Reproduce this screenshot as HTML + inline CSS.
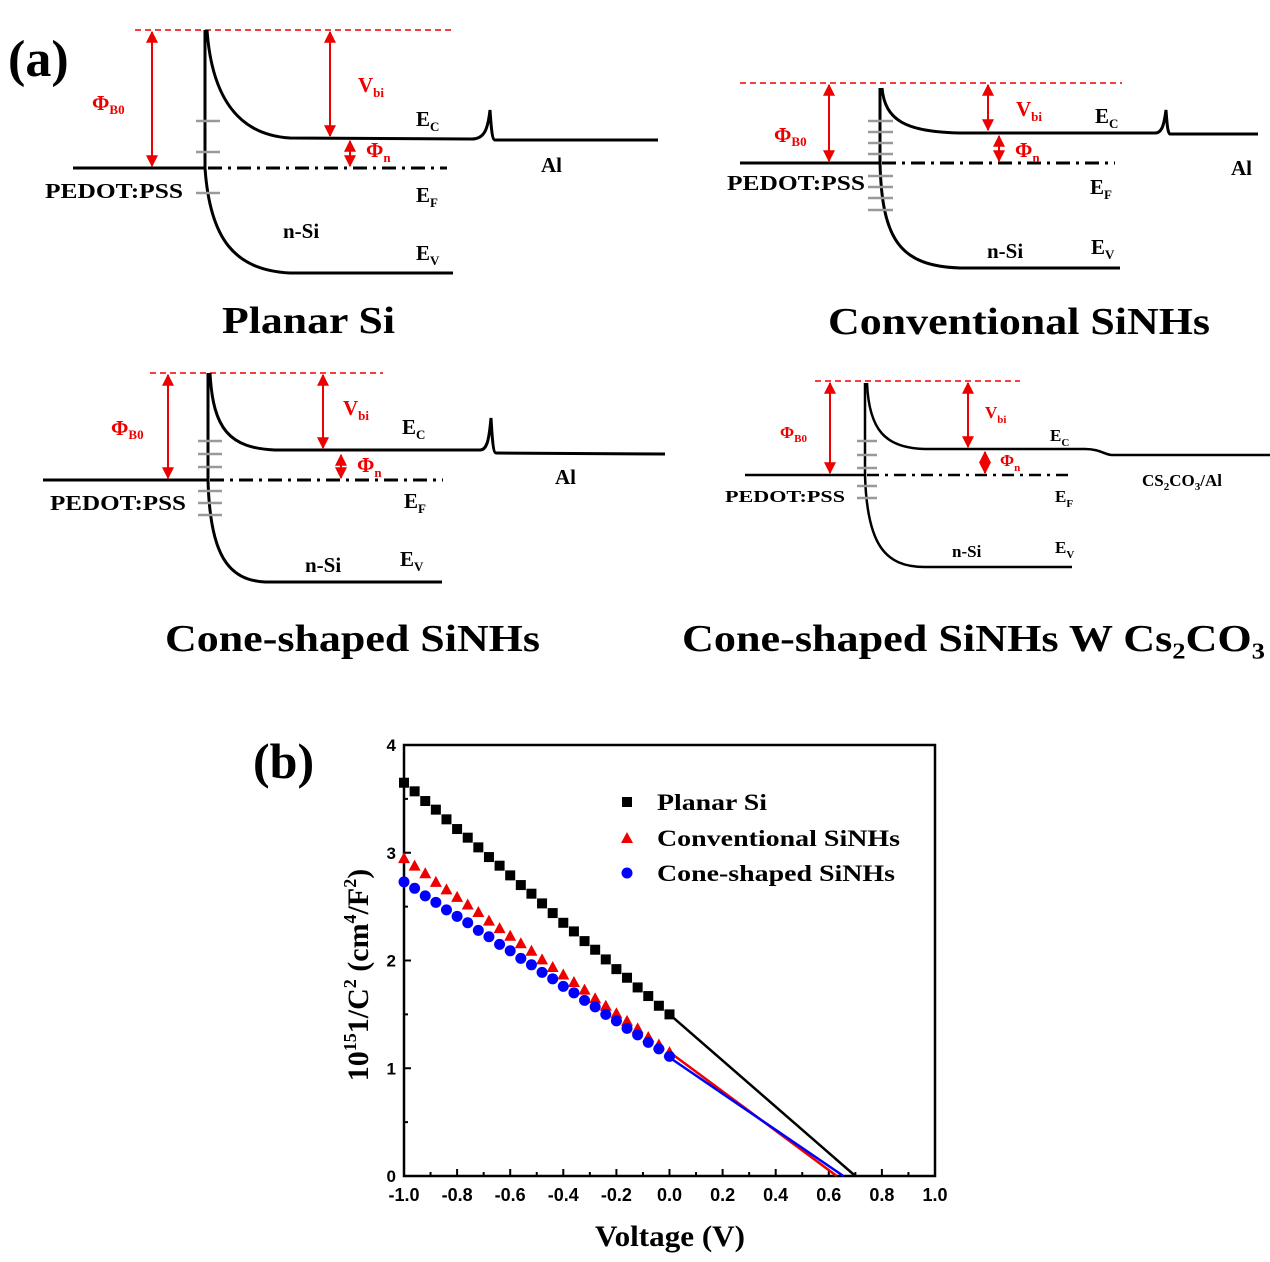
<!DOCTYPE html>
<html><head><meta charset="utf-8"><style>
html,body{margin:0;padding:0;background:#fff;}
svg{display:block;font-family:"Liberation Serif",serif;font-weight:bold;}
</style></head><body>
<svg id="fig" width="1270" height="1262" viewBox="0 0 1270 1262" xmlns="http://www.w3.org/2000/svg">
<defs>
<marker id="ah" viewBox="0 0 10 10" refX="9" refY="5" markerWidth="6" markerHeight="6" orient="auto-start-reverse"><path d="M0,0 L10,5 L0,10 z" fill="#e00"/></marker>
</defs>
<text x="8" y="76" font-size="52">(a)</text>

<!-- Panel 1: Planar Si -->
<g fill="none" stroke-width="3">
<line x1="135" y1="30" x2="453" y2="30" stroke="#e00" stroke-width="1.6" stroke-dasharray="6,4"/>
<line x1="73" y1="168" x2="205" y2="168" stroke="#000"/>
<line x1="205" y1="30" x2="205" y2="168" stroke="#000"/>
<path d="M207,30 C212,100 240,135 290,138 L470,139 C485,140 488,128 490,110 C491,125 492,140 495,140 L658,140" stroke="#000"/>
<line x1="208" y1="168" x2="447" y2="168" stroke="#000" stroke-dasharray="14,6,3,6"/>
<path d="M205,168 C210,240 235,270 290,273 L453,273" stroke="#000"/>
<g stroke="#999" stroke-width="2.5"><line x1="196" y1="121" x2="220" y2="121"/><line x1="196" y1="152" x2="220" y2="152"/><line x1="196" y1="193" x2="220" y2="193"/></g>
<g stroke="#e00" stroke-width="2"><line x1="152" y1="32" x2="152" y2="166" marker-start="url(#ah)" marker-end="url(#ah)"/><line x1="330" y1="32" x2="330" y2="136" marker-start="url(#ah)" marker-end="url(#ah)"/><line x1="350" y1="141" x2="350" y2="166" marker-start="url(#ah)" marker-end="url(#ah)"/></g>
</g>
<g font-size="21">
<text x="92" y="110" fill="#e00">Φ<tspan font-size="13" dy="4">B0</tspan></text>
<text x="358" y="92" fill="#e00">V<tspan font-size="13" dy="5">bi</tspan></text>
<text x="366" y="157" fill="#e00">Φ<tspan font-size="13" dy="5">n</tspan></text>
<text x="416" y="126">E<tspan font-size="13" dy="5">C</tspan></text>
<text x="416" y="202">E<tspan font-size="13" dy="5">F</tspan></text>
<text x="416" y="260">E<tspan font-size="13" dy="5">V</tspan></text>
<text x="283" y="238">n-Si</text>
<text x="45" y="198" textLength="138" lengthAdjust="spacingAndGlyphs">PEDOT:PSS</text>
<text x="541" y="172">Al</text>
</g>
<text x="222" y="333" font-size="38" textLength="173" lengthAdjust="spacingAndGlyphs">Planar Si</text>

<!-- Panel 2: Conventional -->
<g fill="none" stroke-width="3">
<line x1="740" y1="83" x2="1122" y2="83" stroke="#e00" stroke-width="1.6" stroke-dasharray="6,4"/>
<line x1="740" y1="163" x2="880" y2="163" stroke="#000"/>
<line x1="880" y1="88" x2="880" y2="163" stroke="#000"/>
<path d="M882,88 C885,120 905,132 960,133 L1155,133 C1162,133 1164,125 1166,110 C1167,125 1168,134 1170,134 L1258,134" stroke="#000"/>
<line x1="882" y1="163" x2="1115" y2="163" stroke="#000" stroke-dasharray="14,6,3,6"/>
<path d="M880,163 C882,240 900,266 960,268 L1120,268" stroke="#000"/>
<g stroke="#999" stroke-width="2.5">
<line x1="868" y1="121" x2="893" y2="121"/><line x1="868" y1="132" x2="893" y2="132"/><line x1="868" y1="143" x2="893" y2="143"/><line x1="868" y1="154" x2="893" y2="154"/><line x1="868" y1="176" x2="893" y2="176"/><line x1="868" y1="187" x2="893" y2="187"/><line x1="868" y1="198" x2="893" y2="198"/><line x1="868" y1="210" x2="893" y2="210"/></g>
<g stroke="#e00" stroke-width="2"><line x1="829" y1="85" x2="829" y2="161" marker-start="url(#ah)" marker-end="url(#ah)"/><line x1="988" y1="85" x2="988" y2="130" marker-start="url(#ah)" marker-end="url(#ah)"/><line x1="999" y1="136" x2="999" y2="161" marker-start="url(#ah)" marker-end="url(#ah)"/></g>
</g>
<g font-size="21">
<text x="774" y="142" fill="#e00">Φ<tspan font-size="13" dy="4">B0</tspan></text>
<text x="1016" y="116" fill="#e00">V<tspan font-size="13" dy="5">bi</tspan></text>
<text x="1015" y="157" fill="#e00">Φ<tspan font-size="13" dy="5">n</tspan></text>
<text x="1095" y="123">E<tspan font-size="13" dy="5">C</tspan></text>
<text x="1090" y="194">E<tspan font-size="13" dy="5">F</tspan></text>
<text x="1091" y="254">E<tspan font-size="13" dy="5">V</tspan></text>
<text x="987" y="258">n-Si</text>
<text x="727" y="190" textLength="138" lengthAdjust="spacingAndGlyphs">PEDOT:PSS</text>
<text x="1231" y="175">Al</text>
</g>
<text x="828" y="334" font-size="38" textLength="382" lengthAdjust="spacingAndGlyphs">Conventional SiNHs</text>

<!-- Panel 3: Cone-shaped -->
<g fill="none" stroke-width="3">
<line x1="150" y1="373" x2="383" y2="373" stroke="#e00" stroke-width="1.6" stroke-dasharray="6,4"/>
<line x1="43" y1="480" x2="208" y2="480" stroke="#000"/>
<line x1="208" y1="373" x2="208" y2="480" stroke="#000"/>
<path d="M210,373 C213,430 230,448 275,450 L480,450 C487,450 489,440 491,418 C492,435 493,453 496,453 L665,454" stroke="#000"/>
<line x1="210" y1="480" x2="443" y2="480" stroke="#000" stroke-dasharray="14,6,3,6"/>
<path d="M208,480 C210,555 228,580 265,582 L442,582" stroke="#000"/>
<g stroke="#999" stroke-width="2.5">
<line x1="198" y1="441" x2="222" y2="441"/><line x1="198" y1="454" x2="222" y2="454"/><line x1="198" y1="467" x2="222" y2="467"/><line x1="198" y1="491" x2="222" y2="491"/><line x1="198" y1="503" x2="222" y2="503"/><line x1="198" y1="515" x2="222" y2="515"/></g>
<g stroke="#e00" stroke-width="2"><line x1="168" y1="375" x2="168" y2="478" marker-start="url(#ah)" marker-end="url(#ah)"/><line x1="323" y1="375" x2="323" y2="448" marker-start="url(#ah)" marker-end="url(#ah)"/><line x1="341" y1="455" x2="341" y2="478" marker-start="url(#ah)" marker-end="url(#ah)"/></g>
</g>
<g font-size="21">
<text x="111" y="435" fill="#e00">Φ<tspan font-size="13" dy="4">B0</tspan></text>
<text x="343" y="415" fill="#e00">V<tspan font-size="13" dy="5">bi</tspan></text>
<text x="357" y="472" fill="#e00">Φ<tspan font-size="13" dy="5">n</tspan></text>
<text x="402" y="434">E<tspan font-size="13" dy="5">C</tspan></text>
<text x="404" y="508">E<tspan font-size="13" dy="5">F</tspan></text>
<text x="400" y="566">E<tspan font-size="13" dy="5">V</tspan></text>
<text x="305" y="572">n-Si</text>
<text x="50" y="510" textLength="136" lengthAdjust="spacingAndGlyphs">PEDOT:PSS</text>
<text x="555" y="484">Al</text>
</g>
<text x="165" y="651" font-size="38" textLength="375" lengthAdjust="spacingAndGlyphs">Cone-shaped SiNHs</text>

<!-- Panel 4: Cone-shaped with Cs2CO3 -->
<g fill="none" stroke-width="2.5">
<line x1="815" y1="381" x2="1020" y2="381" stroke="#e00" stroke-width="1.6" stroke-dasharray="6,4"/>
<line x1="745" y1="475" x2="865" y2="475" stroke="#000"/>
<line x1="865" y1="383" x2="865" y2="475" stroke="#000"/>
<path d="M867,383 C869,430 885,448 925,449 L1085,449 C1100,449 1105,455 1112,455 L1270,455" stroke="#000"/>
<line x1="867" y1="475" x2="1072" y2="475" stroke="#000" stroke-dasharray="12,6,3,6"/>
<path d="M865,475 C867,545 885,567 925,567 L1072,567" stroke="#000"/>
<g stroke="#999" stroke-width="2.5">
<line x1="857" y1="441" x2="877" y2="441"/><line x1="857" y1="455" x2="877" y2="455"/><line x1="857" y1="468" x2="877" y2="468"/><line x1="857" y1="486" x2="877" y2="486"/><line x1="857" y1="498" x2="877" y2="498"/></g>
<g stroke="#e00" stroke-width="2"><line x1="830" y1="383" x2="830" y2="473" marker-start="url(#ah)" marker-end="url(#ah)"/><line x1="968" y1="383" x2="968" y2="447" marker-start="url(#ah)" marker-end="url(#ah)"/><line x1="985" y1="452" x2="985" y2="473" marker-start="url(#ah)" marker-end="url(#ah)"/></g>
</g>
<g font-size="17">
<text x="780" y="438" fill="#e00">Φ<tspan font-size="11" dy="4">B0</tspan></text>
<text x="985" y="418" fill="#e00">V<tspan font-size="11" dy="5">bi</tspan></text>
<text x="1000" y="466" fill="#e00">Φ<tspan font-size="11" dy="5">n</tspan></text>
<text x="1050" y="441">E<tspan font-size="11" dy="5">C</tspan></text>
<text x="1055" y="502">E<tspan font-size="11" dy="5">F</tspan></text>
<text x="1055" y="553">E<tspan font-size="11" dy="5">V</tspan></text>
<text x="952" y="557">n-Si</text>
<text x="725" y="502" textLength="120" lengthAdjust="spacingAndGlyphs">PEDOT:PSS</text>
<text x="1142" y="486">CS<tspan font-size="11" dy="4">2</tspan><tspan dy="-4">CO</tspan><tspan font-size="11" dy="4">3</tspan><tspan dy="-4">/Al</tspan></text>
</g>
<text x="682" y="651" font-size="38" textLength="583" lengthAdjust="spacingAndGlyphs">Cone-shaped SiNHs W Cs₂CO₃</text>

<!-- Panel b -->
<text x="253" y="778" font-size="50">(b)</text>
<g id="chart"></g>
</svg>
<script>
const voltages = [-1,-0.96,-0.92,-0.88,-0.84,-0.8,-0.76,-0.72,-0.68,-0.64,-0.6,-0.56,-0.52,-0.48,-0.44,-0.4,-0.36,-0.32,-0.28,-0.24,-0.2,-0.16,-0.12,-0.08,-0.04,0];
const planarValues = [3.65,3.57,3.48,3.40,3.31,3.22,3.14,3.05,2.96,2.88,2.79,2.70,2.62,2.53,2.44,2.35,2.27,2.18,2.10,2.01,1.92,1.84,1.75,1.67,1.58,1.50];
const conventionalValues = [2.95,2.88,2.81,2.73,2.66,2.59,2.52,2.45,2.37,2.30,2.23,2.16,2.09,2.01,1.94,1.87,1.80,1.73,1.65,1.58,1.51,1.44,1.37,1.29,1.22,1.15];
const coneValues = [2.73,2.67,2.60,2.54,2.47,2.41,2.35,2.28,2.22,2.15,2.09,2.02,1.96,1.89,1.83,1.76,1.70,1.63,1.57,1.50,1.44,1.37,1.31,1.24,1.18,1.11];
const planarFit = [[0,1.5],[0.7,0]];
const conventionalFit = [[0,1.15],[0.63,0]];
const coneFit = [[0,1.1],[0.655,0]];
const xTicks = [-1,-0.8,-0.6,-0.4,-0.2,0,0.2,0.4,0.6,0.8,1];
const xTickLabels = ["-1.0","-0.8","-0.6","-0.4","-0.2","0.0","0.2","0.4","0.6","0.8","1.0"];
const yTicks = [0,1,2,3,4];
const yTickLabels = ["0","1","2","3","4"];

const NS = "http://www.w3.org/2000/svg";
const g = document.getElementById('chart');
const X0 = 404, X1 = 935, Y0 = 1176, Y1 = 745;
const sx = v => X0 + (v + 1) / 2 * (X1 - X0);
const sy = v => Y0 - v / 4 * (Y0 - Y1);
function mk(tag, attrs, parent) {
  const e = document.createElementNS(NS, tag);
  for (const k in attrs) e.setAttribute(k, attrs[k]);
  (parent || g).appendChild(e);
  return e;
}
const frame = mk('rect', {x: X0, y: Y1, width: X1 - X0, height: Y0 - Y1, fill: 'none', stroke: '#000', 'stroke-width': 2.5});


xTicks.forEach((t, i) => {
  const x = sx(t);
  const tk = mk('line', {x1: x, y1: Y0, x2: x, y2: Y0 - 7, stroke: '#000', 'stroke-width': 2});
  
  
  if (i < xTicks.length - 1) {
    const mx = sx(t + 0.1);
    const mt = mk('line', {x1: mx, y1: Y0, x2: mx, y2: Y0 - 4, stroke: '#000', 'stroke-width': 2});
    
    
  }
  const lb = mk('text', {x: x, y: Y0 + 25, 'text-anchor': 'middle', 'font-size': 18, 'font-family': 'Liberation Sans, sans-serif'});
  lb.textContent = xTickLabels[i];
  
  
});
yTicks.forEach((t, i) => {
  const y = sy(t);
  const tk = mk('line', {x1: X0, y1: y, x2: X0 + 7, y2: y, stroke: '#000', 'stroke-width': 2});
  
  
  if (i < yTicks.length - 1) {
    const my = sy(t + 0.5);
    const mt = mk('line', {x1: X0, y1: my, x2: X0 + 4, y2: my, stroke: '#000', 'stroke-width': 2});
    
    
  }
  const lb = mk('text', {x: X0 - 8, y: y + 6, 'text-anchor': 'end', 'font-size': 17, 'font-family': 'Liberation Sans, sans-serif'});
  lb.textContent = yTickLabels[i];
  
  
});
const xt = mk('text', {x: 595, y: 1246, 'font-size': 30, textLength: 150, lengthAdjust: 'spacingAndGlyphs'});
xt.textContent = 'Voltage (V)';


const yt = mk('text', {x: 0, y: 0, 'text-anchor': 'middle', 'font-size': 30, transform: 'translate(368,975) rotate(-90)'});
yt.innerHTML = '10<tspan font-size="18" dy="-12">15</tspan><tspan dy="12">1/C</tspan><tspan font-size="18" dy="-12">2</tspan><tspan dy="12"> (cm</tspan><tspan font-size="18" dy="-12">4</tspan><tspan dy="12">/F</tspan><tspan font-size="18" dy="-12">2</tspan><tspan dy="12">)</tspan>';



function fit(pts, color, name) {
  const l = mk('line', {x1: sx(pts[0][0]), y1: sy(pts[0][1]), x2: sx(pts[1][0]), y2: sy(pts[1][1]), stroke: color, 'stroke-width': 2.5});
  
  
}
fit(planarFit, '#000', 'fit-line-planar');
fit(conventionalFit, '#e00', 'fit-line-conventional');
fit(coneFit, '#00f', 'fit-line-cone');

function marker(shape, x, y, color, parent) {
  let m;
  if (shape === 'sq') m = mk('rect', {x: x - 5, y: y - 5, width: 10, height: 10, fill: color}, parent);
  else if (shape === 'tri') m = mk('polygon', {points: `${x},${y-6} ${x-6},${y+5} ${x+6},${y+5}`, fill: color}, parent);
  else m = mk('circle', {cx: x, cy: y, r: 5.5, fill: color}, parent);
  return m;
}
function series(vals, shape, color, name) {
  const sg = mk('g', {});
  
  
  vals.forEach((v, i) => {
    const m = marker(shape, sx(voltages[i]), sy(v), color, sg);
    
    
  });
}
series(planarValues, 'sq', '#000', 'series-planar-si');
series(conventionalValues, 'tri', '#e00', 'series-conventional-sinhs');
series(coneValues, 'circ', '#00f', 'series-cone-shaped-sinhs');

const legend = [['sq', '#000', 'Planar Si', 802, 110], ['tri', '#e00', 'Conventional SiNHs', 838, 243], ['circ', '#00f', 'Cone-shaped SiNHs', 873, 238]];
legend.forEach(([s, c, t, y, w]) => {
  const lg = mk('g', {});
  
  
  marker(s, 627, y, c, lg);
  const tx = mk('text', {x: 657, y: y + 8, 'font-size': 23, textLength: w, lengthAdjust: 'spacingAndGlyphs'}, lg);
  tx.textContent = t;
});
</script>
</body></html>
